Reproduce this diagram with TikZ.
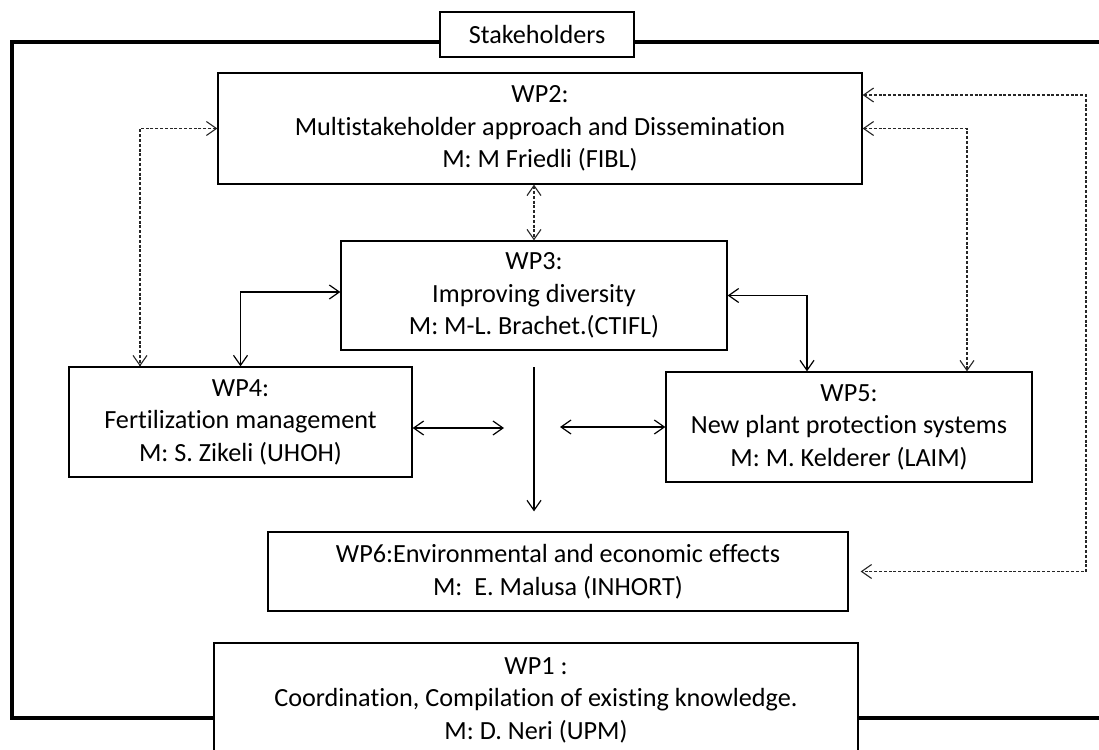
\documentclass[tikz,border=0pt]{standalone}
\usepackage{fontspec}
\setmainfont{Carlito}[Ligatures=NoCommon]
\usetikzlibrary{arrows.meta,calc}
\begin{document}
\begin{tikzpicture}[x=1pt,y=-1pt,
  wpbox/.style={draw, line width=1.3pt, fill=white, align=center, inner sep=0pt,
    font=\fontsize{26.2}{32.5}\selectfont},
  frameline/.style={line width=3.4pt},
  conn/.style={line width=1.2pt, {Straight Barb[length=10pt,width=14pt]}-{Straight Barb[length=10pt,width=14pt]}},
  dconn/.style={conn, line width=1.1pt, black!85, dash pattern=on 3pt off 1.8pt},
]
\useasboundingbox (0,0) rectangle (1099,749);
\fill[white] (0,0) rectangle (1099,749);
% outer frame
\draw[frameline] (1130,42) -- (12,42) -- (12,718) -- (1130,718);
% boxes
\node[wpbox, minimum width=194pt, minimum height=45pt] (stake) at (537,34.5) {Stakeholders};
\node[wpbox, minimum width=644pt, minimum height=111pt] (wp2) at (540,128.5)
  {WP2:\\Multistakeholder approach and Dissemination\\M: M Friedli (FIBL)};
\node[wpbox, minimum width=386pt, minimum height=109pt] (wp3) at (534,295.5)
  {WP3:\\Improving diversity\\M: M-L. Brachet.(CTIFL)};
\node[wpbox, minimum width=343pt, minimum height=110pt] (wp4) at (240.5,422)
  {WP4:\\Fertilization management\\M: S. Zikeli (UHOH)};
\node[wpbox, minimum width=366pt, minimum height=110pt] (wp5) at (849,427)
  {WP5:\\New plant protection systems\\M: M. Kelderer (LAIM)};
\node[wpbox, minimum width=580pt, minimum height=79pt] (wp6) at (558,571.5)
  {WP6:Environmental and economic effects\\M:\ \ E. Malusa (INHORT)};
\node[wpbox, minimum width=644pt, minimum height=114pt] (wp1) at (536,700)
  {WP1 :\\Coordination, Compilation of existing knowledge.\\M: D. Neri (UPM)};
% coordinates
\coordinate (rc1) at (1086,95);
\coordinate (rc2) at (1086,571.5);
\coordinate (m1) at (504,428);
\coordinate (m2) at (560,427);
\coordinate (vtop) at (534,367);
% dashed connectors
\draw[dconn] (wp2.west) -| ([xshift=-100.5pt]wp4.north);
\draw[dconn] (wp3.north |- wp2.south) -- (wp3.north);
\draw[dconn] (wp2.east) -| ([xshift=118pt]wp5.north);
\draw[dconn, shorten >=12pt] ([yshift=33.5pt]wp2.east) -- (rc1) -- (rc2) -- (wp6.east);
% solid connectors
\draw[conn] ([yshift=3.5pt]wp3.west) -| (wp4.north);
\draw[conn] (wp3.east) -| ([xshift=-42pt]wp5.north);
\draw[conn] (wp4.east |- m1) -- (m1);
\draw[conn] (m2) -- (wp5.west);
\draw[line width=1.2pt, -{Straight Barb[length=10pt,width=14pt]}, shorten >=20pt] (vtop) -- (vtop |- wp6.north);
\end{tikzpicture}
\end{document}
